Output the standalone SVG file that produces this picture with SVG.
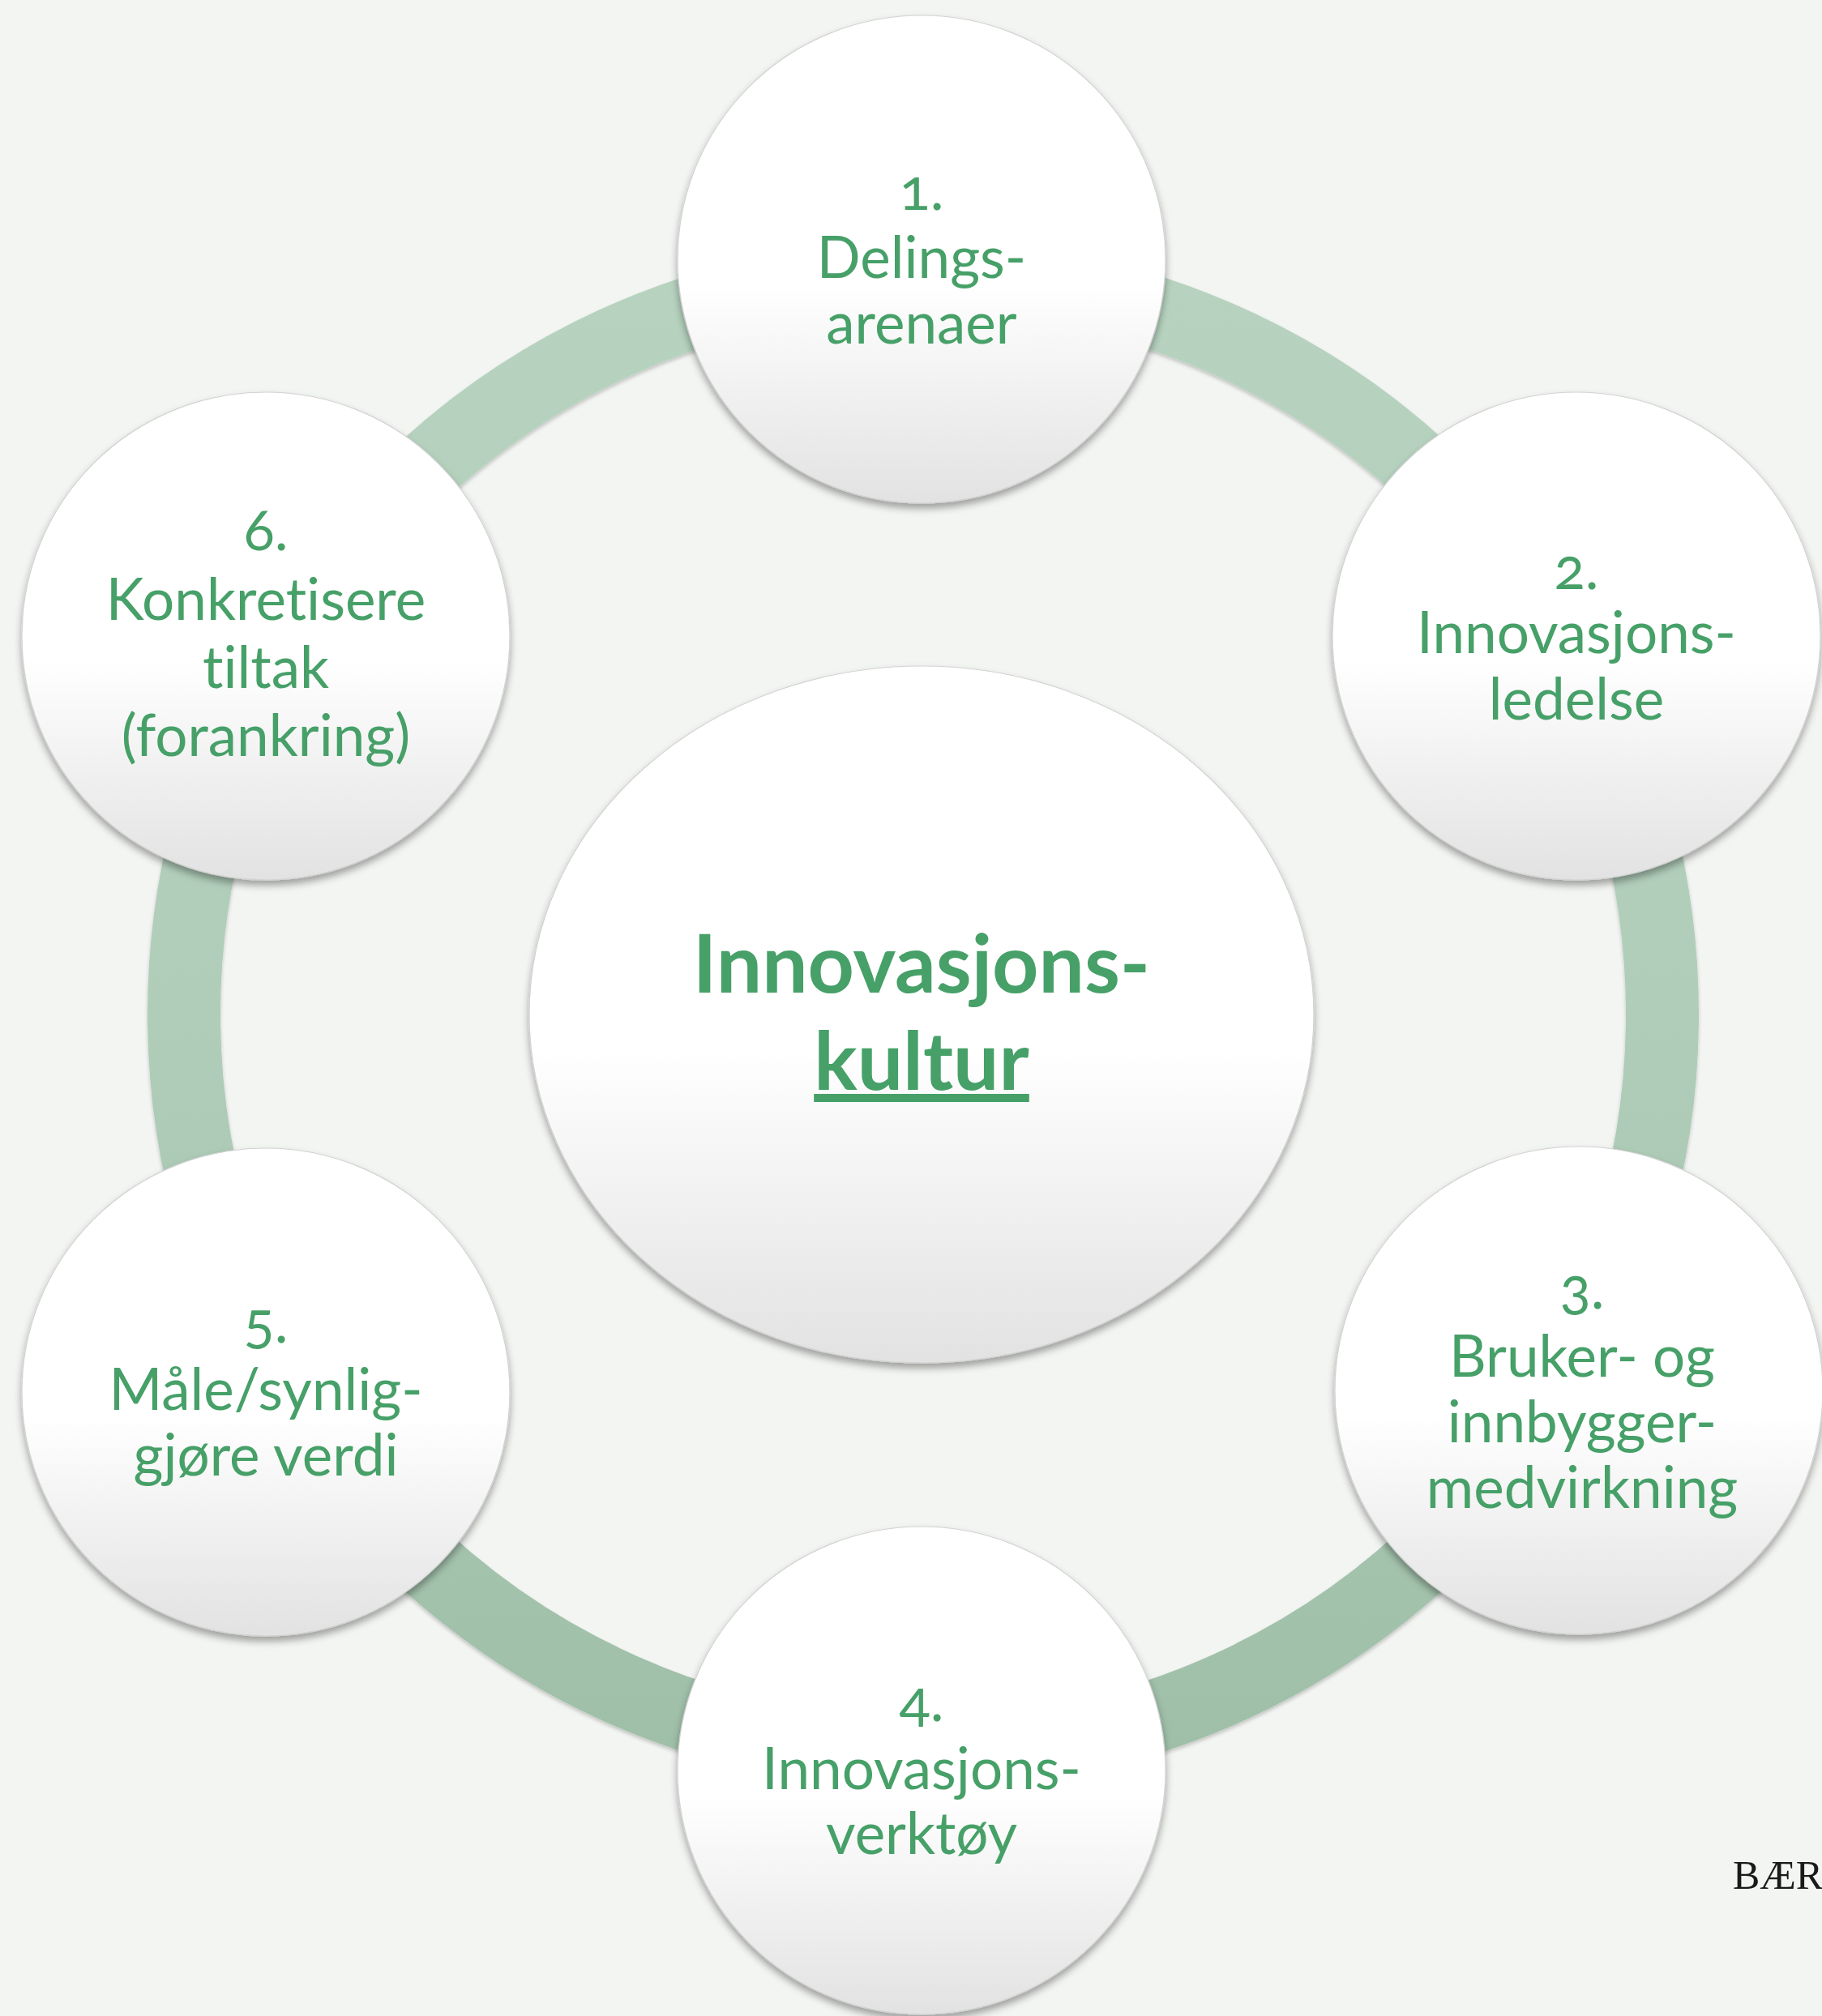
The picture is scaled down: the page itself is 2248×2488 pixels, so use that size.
<svg xmlns="http://www.w3.org/2000/svg" width="2248" height="2488" viewBox="0 0 2248 2488">
<style>
.lbl{font-family:Lato,"Open Sans","Liberation Sans",sans-serif;font-size:71px;fill:#46a068;text-anchor:middle;font-variant-numeric:oldstyle-nums;font-variant-ligatures:none}
.ctr{font-family:Lato,"Open Sans","Liberation Sans",sans-serif;font-size:100px;font-weight:bold;fill:#46a068;text-anchor:middle;font-variant-ligatures:none}
.node{fill:url(#nodeGrad);stroke:#d2d2d2;stroke-width:1.2;filter:url(#shadow)}
</style>
<defs>
<linearGradient id="nodeGrad" x1="0" y1="0" x2="0" y2="1">
<stop offset="0" stop-color="#ffffff"/>
<stop offset="0.55" stop-color="#ffffff"/>
<stop offset="1" stop-color="#e2e2e2"/>
</linearGradient>
<linearGradient id="ringGrad" gradientUnits="userSpaceOnUse" x1="0" y1="340" x2="0" y2="2164">
<stop offset="0" stop-color="#b7d3c0"/>
<stop offset="0.5" stop-color="#b0cdb9"/>
<stop offset="1" stop-color="#9fbfa8"/>
</linearGradient>
<filter id="shadow" x="-10%" y="-10%" width="120%" height="125%">
<feDropShadow dx="0" dy="6" stdDeviation="5" flood-color="#000" flood-opacity="0.35"/>
</filter>
<filter id="ringShadow" x="-10%" y="-10%" width="120%" height="120%">
<feDropShadow dx="0" dy="3" stdDeviation="2" flood-color="#000" flood-opacity="0.2"/>
</filter>
</defs>
<rect x="0" y="0" width="2248" height="2488" fill="#f3f5f2"/>
<g id="connectors">
<circle cx="1139" cy="1252" r="912" fill="none" stroke="url(#ringGrad)" stroke-width="90" filter="url(#ringShadow)"/>
</g>
<g id="center">
<ellipse class="node" cx="1137" cy="1252" rx="484" ry="430"/>
<text class="ctr"><tspan x="1137" y="1225">Innovasjons-</tspan><tspan x="1137" y="1345" text-decoration="underline">kultur</tspan></text>
</g>
<g id="node1">
<circle class="node" cx="1137" cy="320" r="301"/>
<text class="lbl"><tspan x="1137" y="259">1.</tspan><tspan x="1137" y="343">Delings-</tspan><tspan x="1137" y="424">arenaer</tspan></text>
</g>
<g id="node2">
<circle class="node" cx="1945" cy="785" r="301"/>
<text class="lbl"><tspan x="1945" y="727">2.</tspan><tspan x="1945" y="806">Innovasjons-</tspan><tspan x="1945" y="888">ledelse</tspan></text>
</g>
<g id="node3">
<circle class="node" cx="1948" cy="1716" r="301"/>
<text class="lbl"><tspan x="1952" y="1615">3.</tspan><tspan x="1952" y="1699">Bruker- og</tspan><tspan x="1952" y="1780">innbygger-</tspan><tspan x="1952" y="1861">medvirkning</tspan></text>
</g>
<g id="node4">
<circle class="node" cx="1137" cy="2185" r="301"/>
<text class="lbl"><tspan x="1137" y="2124">4.</tspan><tspan x="1137" y="2208">Innovasjons-</tspan><tspan x="1137" y="2288">verktøy</tspan></text>
</g>
<g id="node5">
<circle class="node" cx="328" cy="1718" r="301"/>
<text class="lbl"><tspan x="328" y="1657">5.</tspan><tspan x="328" y="1740">Måle/synlig-</tspan><tspan x="328" y="1821">gjøre verdi</tspan></text>
</g>
<g id="node6">
<circle class="node" cx="328" cy="785" r="301"/>
<text class="lbl"><tspan x="328" y="679">6.</tspan><tspan x="328" y="765">Konkretisere</tspan><tspan x="328" y="849">tiltak</tspan><tspan x="328" y="933">(forankring)</tspan></text>
</g>
<text x="2138" y="2331" font-family="Liberation Serif,serif" font-size="50" fill="#1a1a1a">BÆR</text>
</svg>
